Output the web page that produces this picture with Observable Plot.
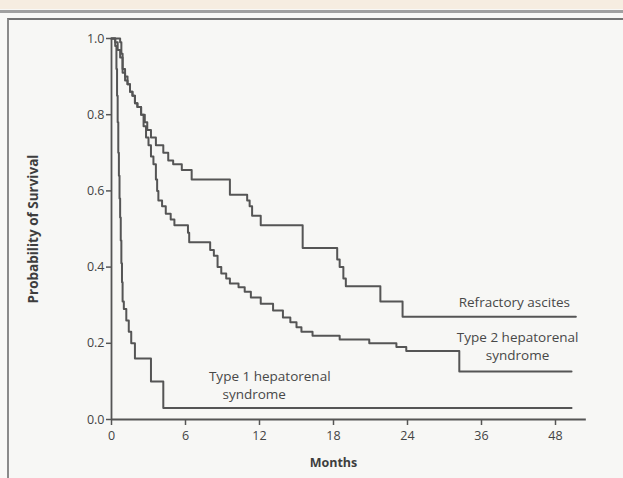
<!DOCTYPE html>
<html><head><meta charset="utf-8">
<script src="https://cdn.jsdelivr.net/npm/d3@7"></script>
<script src="https://cdn.jsdelivr.net/npm/@observablehq/plot@0.6"></script>
<style>
html,body{margin:0;padding:0;}
body{width:623px;height:478px;overflow:hidden;background:#f8f8f6;font-family:"Open Sans",sans-serif;}
#wrap{position:relative;width:623px;height:478px;}
.band{position:absolute;left:0;top:0;width:623px;height:9px;background:#f6ede1;}
.rule1{position:absolute;left:0;top:10px;width:623px;height:2.5px;background:#a0a0a0;}
.panel{position:absolute;left:7px;top:18px;right:0;bottom:0;background:#f7f7f5;border-top:2.5px solid #747474;border-left:2px solid #8a8a8a;}
#chart{position:absolute;left:0;top:0;}
#chart g[aria-label$="tick label"], #chart g[aria-label$="tick label"] text{font-size:12.5px;fill:#444;}
</style></head><body>
<div id="wrap"><div class="band"></div><div class="rule1"></div><div class="panel"></div><div id="chart"></div></div>
<script>
// Axis ticks (months; the axis is stretched 0-24 by 6, then 24-48 by 12)
const xTicks = [0, 6, 12, 18, 24, 36, 48];
const yTicks = [0, 0.2, 0.4, 0.6, 0.8, 1.0];

// Kaplan-Meier curves: month at which survival becomes the listed value
const refractoryMonths   = [0, 0.7, 0.8, 0.9, 1.1, 1.3, 1.5, 1.7, 1.9, 2.1, 2.4, 2.7, 2.9, 3.2, 3.6, 4.2, 4.6, 5.0, 5.7, 6.5, 9.6, 11.0, 11.2, 11.4, 12.1, 15.5, 18.3, 18.5, 18.8, 19.0, 21.8, 23.6, 51.3];
const refractorySurvival = [1.0, 0.99, 0.96, 0.91, 0.89, 0.88, 0.86, 0.85, 0.83, 0.82, 0.80, 0.78, 0.76, 0.74, 0.72, 0.70, 0.68, 0.67, 0.655, 0.63, 0.59, 0.575, 0.56, 0.535, 0.51, 0.45, 0.42, 0.40, 0.37, 0.35, 0.31, 0.27, 0.27];

const type2Months   = [0, 0.3, 0.5, 0.7, 0.9, 1.1, 1.3, 1.5, 1.7, 1.9, 2.1, 2.4, 2.6, 2.8, 3.0, 3.2, 3.4, 3.6, 3.7, 3.8, 4.1, 4.4, 4.8, 5.1, 6.2, 6.3, 8.0, 8.3, 8.6, 8.9, 9.3, 9.6, 10.3, 10.8, 11.3, 12.1, 13.1, 13.9, 14.5, 15.0, 15.4, 16.3, 18.5, 20.9, 23.1, 23.9, 32.4, 50.6];
const type2Survival = [1.0, 0.99, 0.97, 0.95, 0.92, 0.90, 0.88, 0.86, 0.85, 0.83, 0.82, 0.80, 0.77, 0.74, 0.72, 0.69, 0.67, 0.63, 0.60, 0.575, 0.56, 0.54, 0.525, 0.51, 0.49, 0.465, 0.445, 0.43, 0.40, 0.383, 0.37, 0.357, 0.347, 0.335, 0.32, 0.304, 0.286, 0.268, 0.255, 0.242, 0.23, 0.22, 0.21, 0.20, 0.19, 0.18, 0.126, 0.126];

const type1Months   = [0, 0.3, 0.4, 0.45, 0.5, 0.55, 0.6, 0.65, 0.7, 0.75, 0.8, 0.85, 0.9, 1.0, 1.2, 1.4, 1.6, 1.9, 3.2, 4.2, 50.6];
const type1Survival = [1.0, 0.98, 0.92, 0.85, 0.78, 0.70, 0.64, 0.58, 0.53, 0.47, 0.41, 0.36, 0.31, 0.29, 0.26, 0.23, 0.20, 0.16, 0.10, 0.03, 0.03];

// Curve labels (text, month, survival)
const labelTexts  = ["Refractory ascites", "Type 2 hepatorenal", "syndrome", "Type 1 hepatorenal", "syndrome"];
const labelMonths = [32.3, 32.0, 36.7, 7.9, 9.0];
const labelValues = [0.307, 0.214, 0.168, 0.112, 0.066];

const xLabel = "Months";
const yLabel = "Probability of Survival";

const rows = [];
const addSeries = (name, ms, ss) => ms.forEach((m, i) => rows.push({series: name, month: m, survival: ss[i]}));
addSeries("Refractory ascites", refractoryMonths, refractorySurvival);
addSeries("Type 2 hepatorenal syndrome", type2Months, type2Survival);
addSeries("Type 1 hepatorenal syndrome", type1Months, type1Survival);
const labels = labelTexts.map((t, i) => ({text: t, month: labelMonths[i], survival: labelValues[i]}));

const ink = "#555555";
const chart = Plot.plot({
  width: 623, height: 478,
  marginLeft: 111, marginRight: 68, marginTop: 38, marginBottom: 59,
  style: {background: "transparent", fontFamily: "'Open Sans', sans-serif", fontSize: "12px", color: "#444", overflow: "visible"},
  x: {type: "linear", domain: xTicks},
  y: {domain: [0, 1]},
  marks: [
    Plot.ruleY([0], {x1: 0, x2: 53, stroke: ink, strokeWidth: 1.8}),
    Plot.ruleX([0], {y1: 0, y2: 1, stroke: ink, strokeWidth: 1.8}),
    Plot.axisX({ticks: xTicks, tickSize: 6, tickPadding: 6, label: null, stroke: ink, strokeWidth: 1.5}),
    Plot.axisY({ticks: yTicks, tickFormat: d3.format(".1f"), tickSize: 5, tickPadding: 2, label: null, stroke: ink, strokeWidth: 1.5}),
    Plot.line(rows, {x: "month", y: "survival", z: "series", curve: "step-after", stroke: ink, strokeWidth: 2}),
    Plot.text(labels, {x: "month", y: "survival", text: "text", textAnchor: "start", fontSize: 13.5, fill: "#484848"}),
    Plot.text([xLabel], {frameAnchor: "bottom", dy: 47, fontSize: 12.5, fontWeight: "bold", fill: "#3e3e3e"}),
    Plot.text([yLabel], {frameAnchor: "left", textAnchor: "middle", dx: -78, rotate: -90, fontSize: 13.5, fontWeight: "bold", fill: "#3e3e3e"})
  ]
});
document.getElementById("chart").appendChild(chart);
</script>
</body></html>
